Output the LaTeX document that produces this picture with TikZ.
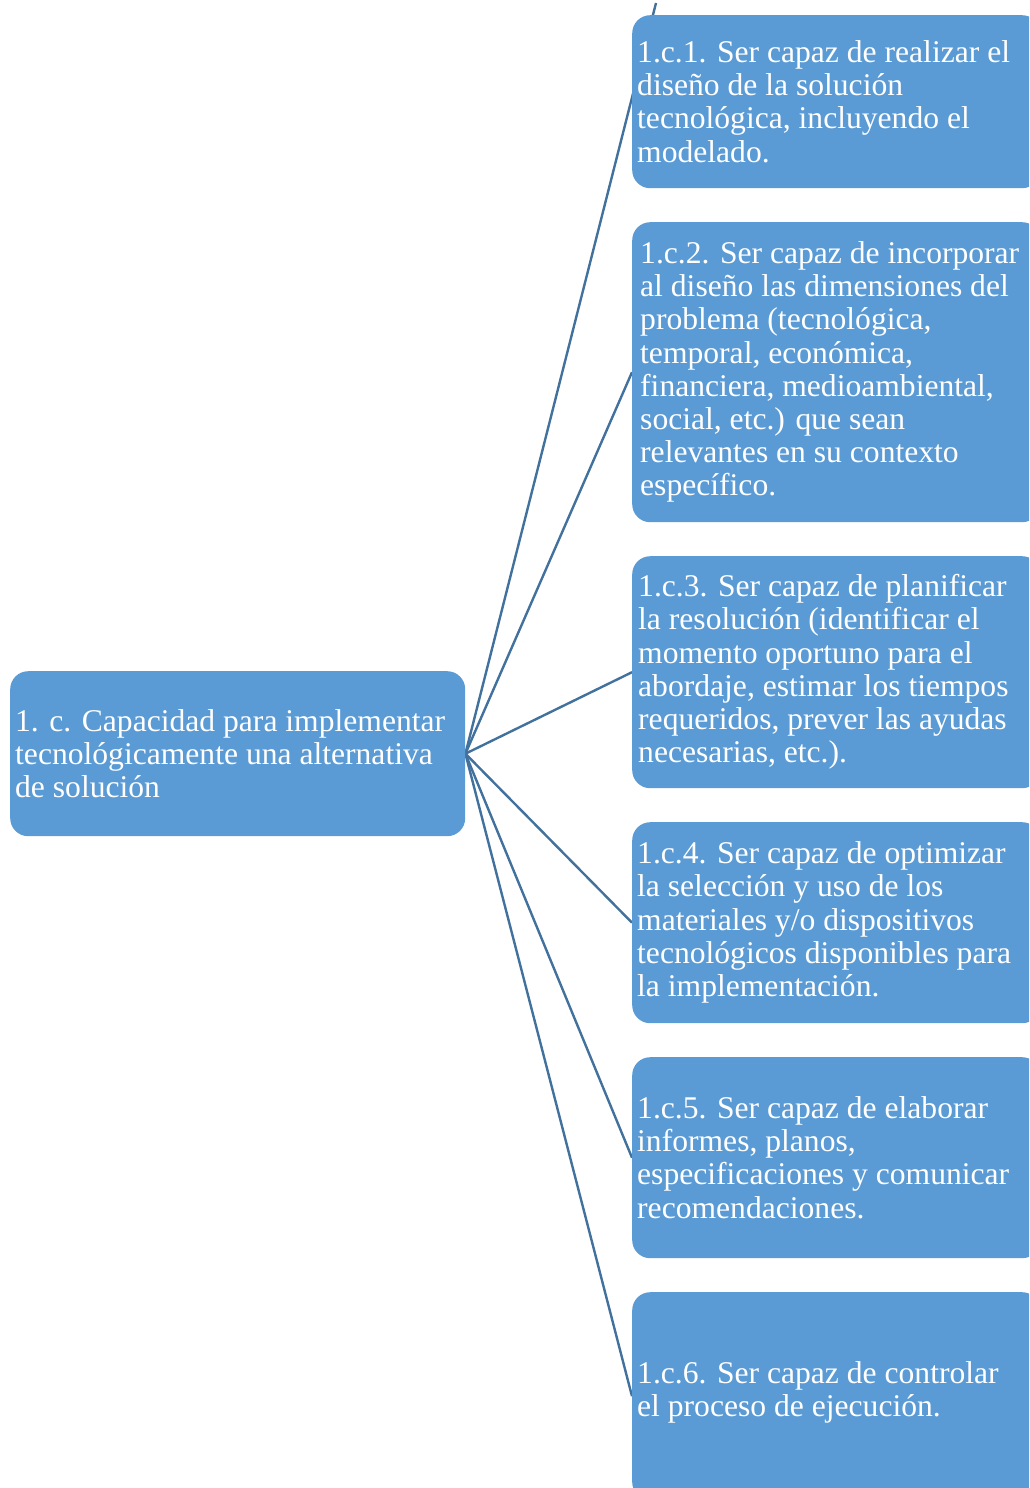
\documentclass[tikz,border=0pt]{standalone}
\usepackage{fontspec}
\setmainfont{Liberation Serif}
\usetikzlibrary{backgrounds}
\definecolor{boxblue}{HTML}{5B9BD5}
\definecolor{linkblue}{HTML}{41719C}
\begin{document}
\begin{tikzpicture}[x=1pt,y=-1pt,
  card/.style={fill=boxblue, draw=none, rounded corners=18pt, anchor=north west, inner sep=0pt},
  label/.style={anchor=west, align=left, inner sep=0pt, text=white, font=\fontsize{31.6}{33.2}\selectfont},
  link/.style={draw=linkblue, line width=2.4pt}]
\useasboundingbox (0,0) rectangle (1029,1488);
\clip (0,0) rectangle (1029,1488);

% root box
\node[card, minimum width=455pt, minimum height=165pt] (root) at (10,671) {};
\node[label] (rootT) at (15,753.5) {1. c. Capacidad para implementar\\tecnológicamente una alternativa\\de solución};

% child boxes
\node[card, minimum width=408pt, minimum height=173pt] (c1) at (632,15) {};
\node[card, minimum width=408pt, minimum height=300pt] (c2) at (632,222) {};
\node[card, minimum width=408pt, minimum height=232pt] (c3) at (632,556) {};
\node[card, minimum width=408pt, minimum height=201pt] (c4) at (632,822) {};
\node[card, minimum width=408pt, minimum height=201pt] (c5) at (632,1057) {};
\node[card, minimum width=408pt, minimum height=208pt] (c6) at (632,1292) {};

\node[label] (t1) at (637,101.5) {1.c.1. Ser capaz de realizar el\\diseño de la solución\\tecnológica, incluyendo el\\modelado.};
\node[label] (t2) at (640,372) {1.c.2. Ser capaz de incorporar\\al diseño las dimensiones del\\problema (tecnológica,\\temporal, económica,\\financiera, medioambiental,\\social, etc.) que sean\\relevantes en su contexto\\específico.};
\node[label] (t3) at (638,672) {1.c.3. Ser capaz de planificar\\la resolución (identificar el\\momento oportuno para el\\abordaje, estimar los tiempos\\requeridos, prever las ayudas\\necesarias, etc.).};
\node[label] (t4) at (637,922.5) {1.c.4. Ser capaz de optimizar\\la selección y uso de los\\materiales y/o dispositivos\\tecnológicos disponibles para\\la implementación.};
\node[label] (t5) at (637,1157.5) {1.c.5. Ser capaz de elaborar\\informes, planos,\\especificaciones y comunicar\\recomendaciones.};
\node[label] (t6) at (637,1392.5) {1.c.6. Ser capaz de controlar\\el proceso de ejecución.};

% connector to the first box runs on behind it up to this point
\coordinate (top1) at (656,3);

\begin{scope}[on background layer]
  \draw[link] (root.east) -- (top1);
  \draw[link] (root.east) -- (c2.west);
  \draw[link] (root.east) -- (c3.west);
  \draw[link] (root.east) -- (c4.west);
  \draw[link] (root.east) -- (c5.west);
  \draw[link] (root.east) -- (c6.west);
\end{scope}
\end{tikzpicture}
\end{document}
